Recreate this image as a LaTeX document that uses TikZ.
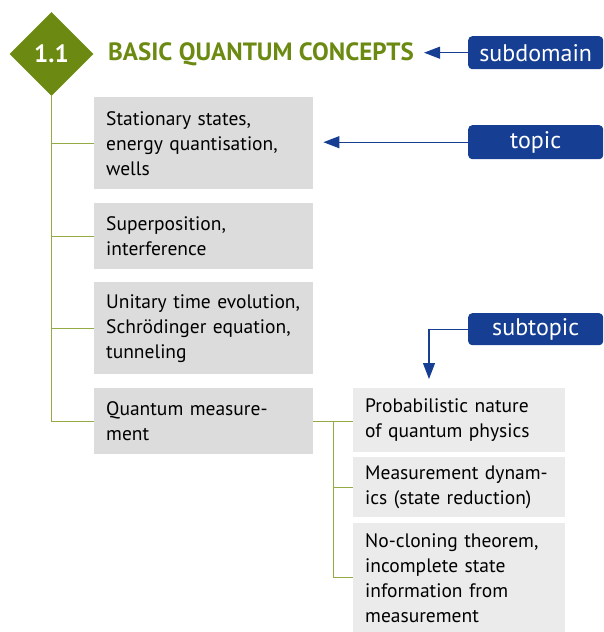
\documentclass[tikz,border=0pt]{standalone}
\usepackage{fontspec}
\setmainfont{PT Sans}
\usetikzlibrary{shapes.geometric, positioning, arrows.meta, calc}
\definecolor{olivegreen}{HTML}{6C8A12}
\definecolor{branchline}{HTML}{93AA45}
\definecolor{eublue}{HTML}{163F94}
\definecolor{topicgrey}{HTML}{DCDCDC}
\definecolor{subgrey}{HTML}{EBEBEB}
\tikzset{topic/.style={fill=topicgrey, anchor=north west, inner xsep=12pt, inner ysep=0pt,
                       text width=195pt, minimum width=219pt, align=left,
                       font=\fontsize{19.5}{25}\selectfont},
         subtopic/.style={topic, fill=subgrey, text width=188pt, minimum width=212pt},
         tag/.style={fill=eublue, text=white, rounded corners=4pt, anchor=north west,
                     minimum width=135pt, inner sep=0pt, font=\fontsize{24}{25}\selectfont},
         branch/.style={draw=branchline, line width=1.2pt},
         pointer/.style={draw=eublue, line width=1.2pt, -{Triangle[length=16pt,width=12pt]}},
        }

\begin{document}
\begin{tikzpicture}[x=1pt, y=-1pt]
        \useasboundingbox (0,0) rectangle (603,632);

        \node[diamond, fill=olivegreen, minimum width=84pt, minimum height=84pt, inner sep=0pt,
              text=white, font=\fontsize{25}{25}\selectfont\bfseries](dom)at(51.5,54){1.1};
        \node[anchor=west, inner sep=0pt, text=olivegreen,
              font=\fontsize{25}{25}\selectfont\bfseries](title)at(108,54){BASIC QUANTUM CONCEPTS};

        \node[topic, minimum height=92pt](t1)at(94,97){Stationary states,\\energy quantisation,\\wells};
        \node[topic, minimum height=66pt](t2)at(94,203){Superposition,\\interference};
        \node[topic, minimum height=92pt](t3)at(94,282){Unitary time evolution,\\Schrödinger equation,\\tunneling};
        \node[topic, minimum height=66pt](t4)at(94,388){Quantum measure-\\ment};

        \node[subtopic, minimum height=64pt](s1)at(353,388){Probabilistic nature\\of quantum physics};
        \node[subtopic, minimum height=60pt](s2)at(353,457){Measurement dynam-\\ics (state reduction)};
        \node[subtopic, minimum height=109pt](s3)at(353,523){No-cloning theorem,\\incomplete state\\information from\\measurement};

        \node[tag, minimum height=33pt](subdomain)at(468,36){subdomain};
        \node[tag, minimum height=34pt](topictag)at(468,125){topic};
        \node[tag, minimum height=32pt](subtopictag)at(468,313){subtopic};

        % tree
        \draw[branch](dom.south)|-(t4.west);
        \draw[branch](dom.south|-t1.west)--(t1.west);
        \draw[branch](dom.south|-t2.west)--(t2.west);
        \draw[branch](dom.south|-t3.west)--(t3.west);

        \coordinate(fork)at($(t4.east)+(20,0)$);
        \draw[branch](t4.east)--(s1.west|-t4.east);
        \draw[branch](fork)|-(s3.west);
        \draw[branch](fork|-s2.west)--(s2.west);

        % legend pointers
        \coordinate(titletip)at($(title.east|-subdomain.west)+(10,0)$);
        \coordinate(topictip)at($(t1.east|-topictag.west)+(10,0)$);
        \coordinate(subtip)at(429,379);
        \draw[pointer](subdomain.west)--(titletip);
        \draw[pointer](topictag.west)--(topictip);
        \draw[pointer](subtopictag.west)-|(subtip);
    \end{tikzpicture}
\end{document}
